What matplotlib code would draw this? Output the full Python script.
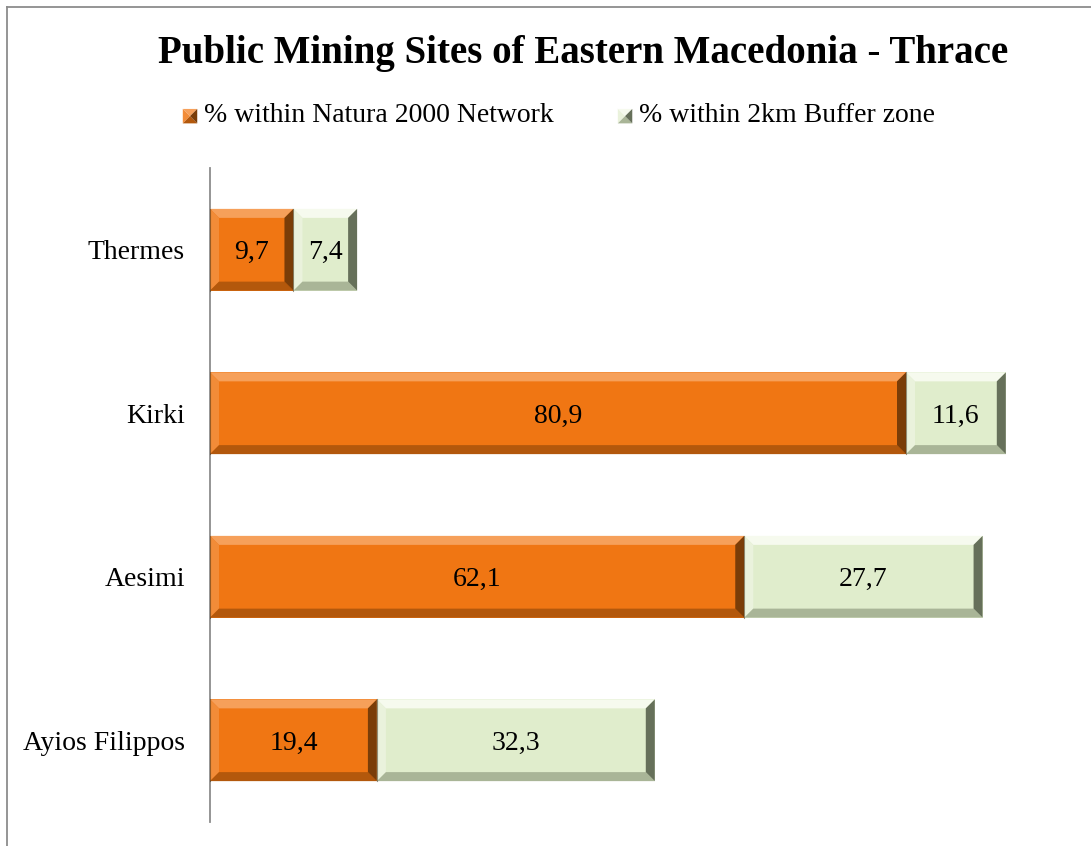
import matplotlib.pyplot as plt
from matplotlib.patches import Polygon
from matplotlib.lines import Line2D
from matplotlib.legend_handler import HandlerBase

# data
sites = ["Thermes", "Kirki", "Aesimi", "Ayios Filippos"]
natura = [9.7, 80.9, 62.1, 19.4]
buffer_zone = [7.4, 11.6, 27.7, 32.3]
series_names = ["% within Natura 2000 Network", "% within 2km Buffer zone"]

# face, top, left, bottom, right
orange = ["#F07613", "#F6A05A", "#F28C38", "#B3580C", "#7A3D08"]
green = ["#E0EDCC", "#F6FAEE", "#EAF2DC", "#A9B597", "#66705A"]

plt.rcParams['font.family'] = ['Liberation Serif', 'DejaVu Serif']

fig = plt.figure(figsize=(10.91, 8.46), dpi=100)
W, H = 1091, 846
ax = fig.add_axes([210 / W, 1 - 822 / H, (1060 - 210) / W, (822 - 168) / H])

y = list(range(len(sites)))
b1 = ax.barh(y, natura, height=0.5, color=orange[0], linewidth=0)
b2 = ax.barh(y, buffer_zone, left=natura, height=0.5, color=green[0], linewidth=0)

ax.set_xlim(0, 98.8)
ax.set_ylim(len(sites) - 0.5, -0.5)
ax.set_yticks(y)
ax.set_yticklabels(sites, fontsize=20)
ax.tick_params(axis='y', length=0, pad=18)
ax.set_xticks([])
for s in ["top", "right", "bottom"]:
    ax.spines[s].set_visible(False)
ax.spines["left"].set_color("#8C8C8C")
ax.spines["left"].set_linewidth(1.3)

# bevel edges, built in pixels from each bar and mapped back to data
bev = 9
inv = ax.transData.inverted()
for bars, cols in [(b1, orange), (b2, green)]:
    for r in bars:
        (x0, y0), (x1, y1) = ax.transData.transform(
            [(r.get_x(), r.get_y()), (r.get_x() + r.get_width(), r.get_y() + r.get_height())])
        lo, hi = min(y0, y1), max(y0, y1)
        quads = {
            1: [(x0, hi), (x1, hi), (x1 - bev, hi - bev), (x0 + bev, hi - bev)],
            2: [(x0, lo), (x0, hi), (x0 + bev, hi - bev), (x0 + bev, lo + bev)],
            3: [(x0, lo), (x1, lo), (x1 - bev, lo + bev), (x0 + bev, lo + bev)],
            4: [(x1, lo), (x1, hi), (x1 - bev, hi - bev), (x1 - bev, lo + bev)],
        }
        for k, q in quads.items():
            ax.add_patch(Polygon(inv.transform(q), closed=True, facecolor=cols[k],
                                 edgecolor="none", zorder=3))
        ax.add_line(Line2D([r.get_x()] * 2, [r.get_y(), r.get_y() + r.get_height()],
                           color="#3A2A10", linewidth=0.8, alpha=0.5, zorder=4))

for bars, vals in [(b1, natura), (b2, buffer_zone)]:
    for r, v in zip(bars, vals):
        ax.text(r.get_x() + r.get_width() / 2, r.get_y() + r.get_height() / 2,
                f"{v:.1f}".replace(".", ","), ha="center", va="center_baseline",
                fontsize=20, zorder=5)


class BevelHandler(HandlerBase):
    def __init__(self, cols):
        super().__init__()
        self.cols = cols

    def create_artists(self, legend, orig, xd, yd, w, h, fs, trans):
        s = min(w, h)
        x0, y0 = xd + (w - s) / 2, yd + (h - s) / 2
        x1, y1 = x0 + s, y0 + s
        cx, cy = x0 + s / 2, y0 + s / 2
        tris = [
            ([(x0, y1), (x1, y1), (cx, cy)], self.cols[1]),
            ([(x0, y0), (x0, y1), (cx, cy)], self.cols[2]),
            ([(x0, y0), (x1, y0), (cx, cy)], self.cols[3]),
            ([(x1, y0), (x1, y1), (cx, cy)], self.cols[4]),
        ]
        return [Polygon(p, closed=True, facecolor=c, edgecolor="none", transform=trans)
                for p, c in tris]


h1, h2 = Line2D([], []), Line2D([], [])
fig.legend([h1, h2], series_names, loc="center", bbox_to_anchor=(559 / W, 1 - 116 / H),
           ncol=2, frameon=False, fontsize=20, handlelength=0.52, handleheight=0.52,
           handletextpad=0.25, columnspacing=2.3,
           handler_map={h1: BevelHandler(orange), h2: BevelHandler(green)})

fig.text(583 / W, 1 - 54 / H, "Public Mining Sites of Eastern Macedonia - Thrace",
         ha="center", va="center", fontsize=28, fontweight="bold")

# chart-area border (left and top)
fig.add_artist(Line2D([7 / W, 7 / W], [0, 1 - 7 / H], color="#8C8C8C", linewidth=1.3))
fig.add_artist(Line2D([7 / W, 1], [1 - 7 / H, 1 - 7 / H], color="#8C8C8C", linewidth=1.3))

fig.savefig("out.png", dpi=100)
